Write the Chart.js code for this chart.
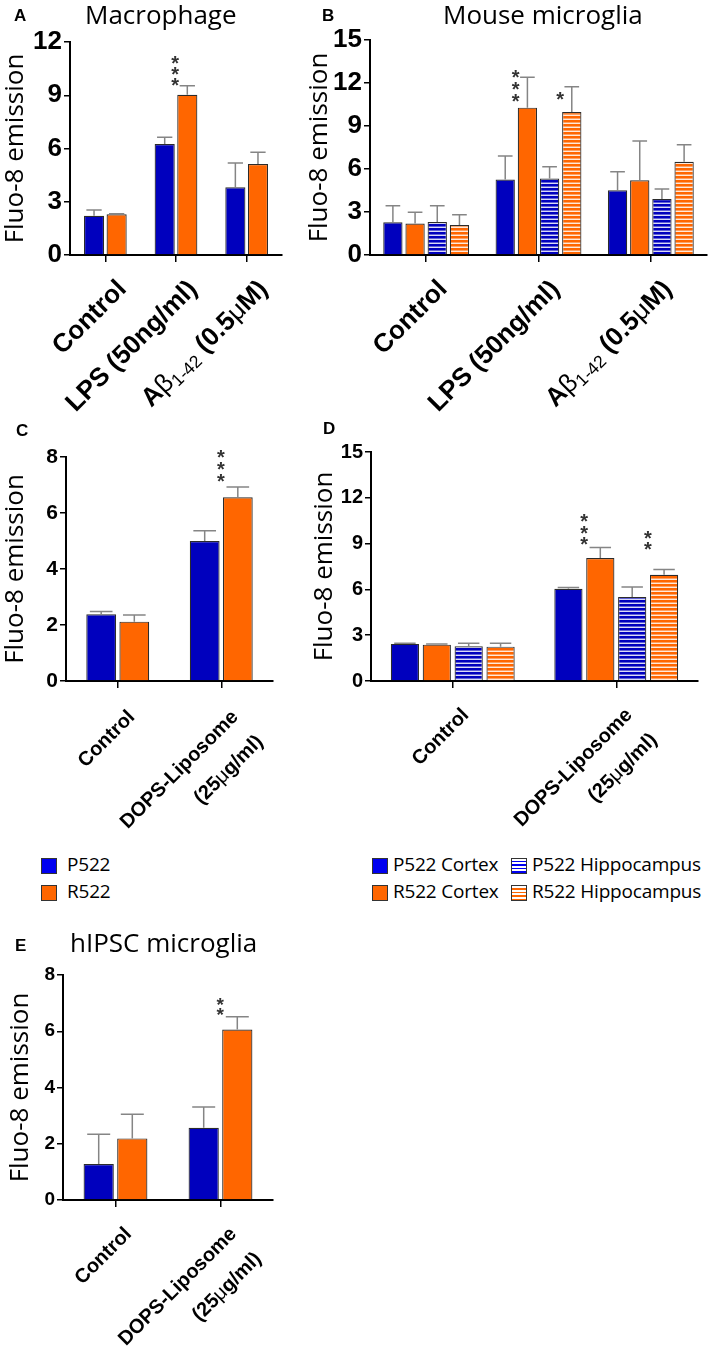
<!DOCTYPE html>
<html>
<head>
<meta charset="utf-8">
<script src="https://cdn.jsdelivr.net/npm/chart.js@4.4.0/dist/chart.umd.min.js"></script>
<style>
  body { margin: 0; background: #fff; }
  #fig { position: relative; width: 709px; height: 1361px; background: #fff; font-family: "Open Sans", sans-serif; color: #000; overflow: hidden; }
  #fig canvas { position: absolute; }
  .letter { position: absolute; font: bold 17px "Liberation Sans", Arial, sans-serif; line-height: 17px; }
  .title { position: absolute; font-size: 26px; line-height: 26px; white-space: nowrap; }
  .leg { position: absolute; font-size: 19px; line-height: 19px; white-space: nowrap; letter-spacing: -0.2px; }
  .sw { position: absolute; width: 16px; height: 16px; border: 1px solid #333; box-sizing: border-box; }
</style>
</head>
<body>
<div id="fig">
  <canvas id="chartA" width="290" height="420" style="left:0;top:0"></canvas>
  <canvas id="chartB" width="419" height="420" style="left:290px;top:0"></canvas>
  <canvas id="chartC" width="290" height="420" style="left:0;top:420px"></canvas>
  <canvas id="chartD" width="419" height="420" style="left:290px;top:420px"></canvas>
  <canvas id="chartE" width="290" height="411" style="left:0;top:950px"></canvas>

  <div class="letter" style="left:14px;top:7px">A</div>
  <div class="letter" style="left:322px;top:7px">B</div>
  <div class="letter" style="left:16px;top:422px">C</div>
  <div class="letter" style="left:323px;top:420px">D</div>
  <div class="letter" style="left:15px;top:937px">E</div>

  <div class="title" style="left:85px;top:1px">Macrophage</div>
  <div class="title" style="left:443px;top:1px">Mouse microglia</div>
  <div class="title" style="left:70px;top:929px">hIPSC microglia</div>

  <div class="sw" style="left:41px;top:858px;background:#0000f0"></div>
  <div class="leg" style="left:67px;top:855px">P522</div>
  <div class="sw" style="left:41px;top:885px;background:#ff6600"></div>
  <div class="leg" style="left:67px;top:882px">R522</div>

  <div class="sw" style="left:372px;top:858px;background:#0000f0"></div>
  <div class="leg" style="left:393px;top:855px">P522 Cortex</div>
  <div class="sw" style="left:511px;top:858px;background:repeating-linear-gradient(to bottom,#fff 0 2px,#0000f0 2px 3.5px)"></div>
  <div class="leg" style="left:532px;top:855px">P522 Hippocampus</div>
  <div class="sw" style="left:372px;top:885px;background:#ff6600"></div>
  <div class="leg" style="left:393px;top:882px">R522 Cortex</div>
  <div class="sw" style="left:511px;top:885px;background:repeating-linear-gradient(to bottom,#fff 0 2px,#ff6600 2px 3.5px)"></div>
  <div class="leg" style="left:532px;top:882px">R522 Hippocampus</div>
</div>

<script>
// ---- data ----
const catsTreat = ["Control", "LPS (50ng/ml)", "Aβ_{1-42} (0.5μM)"];
const catsDops = ["Control", ["DOPS-Liposome", "(25μg/ml)"]];

// A: macrophage
const macP522 = [2.21, 6.25, 3.81];
const macP522Err = [0.32, 0.38, 1.37];
const macR522 = [2.29, 9.03, 5.13];
const macR522Err = [0.03, 0.51, 0.66];
const macR522Stars = ["", "***", ""];
const macR522StarAt = [0, 9.8, 0];

// B: mouse microglia
const mmP522Ctx = [2.28, 5.26, 4.51];
const mmP522CtxErr = [1.16, 1.65, 1.30];
const mmR522Ctx = [2.19, 10.28, 5.21];
const mmR522CtxErr = [0.79, 2.12, 2.74];
const mmP522Hip = [2.30, 5.33, 3.91];
const mmP522HipErr = [1.14, 0.83, 0.69];
const mmR522Hip = [2.09, 9.98, 6.51];
const mmR522HipErr = [0.72, 1.76, 1.19];
const mmR522CtxStars = ["", "***", ""];
const mmR522CtxStarAt = [0, 11.05, 0];
const mmR522HipStars = ["", "*", ""];
const mmR522HipStarAt = [0, 11.2, 0];

// C: DOPS, two genotypes
const cP522 = [2.38, 5.00];
const cP522Err = [0.10, 0.37];
const cR522 = [2.12, 6.56];
const cR522Err = [0.24, 0.37];
const cR522Stars = ["", "***"];
const cR522StarAt = [0, 7.29];

// D: DOPS, cortex / hippocampus
const dP522Ctx = [2.43, 6.04];
const dP522CtxErr = [0.04, 0.08];
const dR522Ctx = [2.38, 8.05];
const dR522CtxErr = [0.05, 0.70];
const dP522Hip = [2.28, 5.51];
const dP522HipErr = [0.19, 0.64];
const dR522Hip = [2.25, 6.96];
const dR522HipErr = [0.22, 0.34];
const dR522CtxStars = ["", "***"];
const dR522CtxStarAt = [0, 9.25];
const dR522HipStars = ["", "**"];
const dR522HipStarAt = [0, 8.92];

// E: hIPSC microglia
const eP522 = [1.28, 2.57];
const eP522Err = [1.06, 0.74];
const eR522 = [2.19, 6.06];
const eR522Err = [0.86, 0.46];
const eR522Stars = ["", "**"];
const eR522StarAt = [0, 6.76];

const BLUE = "#0000be";
const ORANGE = "#ff6600";

// horizontal white stripes for the hippocampus bars
function stripes(color) {
  const c = document.createElement("canvas");
  c.width = 8; c.height = 4;
  const g = c.getContext("2d");
  g.fillStyle = color;
  g.fillRect(0, 0, 8, 4);
  g.fillStyle = "rgba(255,255,255,0.95)";
  g.fillRect(0, 2.6, 8, 1.3);
  return g.createPattern(c, "repeat");
}

// error bars (upper only) and significance stars
const errorBars = {
  id: "errorBars",
  afterDatasetsDraw(chart, args, opts) {
    const ctx = chart.ctx, y = chart.scales.y;
    chart.data.datasets.forEach((ds, i) => {
      chart.getDatasetMeta(i).data.forEach((bar, j) => {
        const top = y.getPixelForValue(ds.data[j] + ds.errors[j]);
        const cap = bar.width * 0.38;
        ctx.save();
        ctx.strokeStyle = "#858585";
        ctx.lineWidth = 1.5;
        ctx.beginPath();
        ctx.moveTo(bar.x, bar.y);
        ctx.lineTo(bar.x, top);
        ctx.moveTo(bar.x - cap, top);
        ctx.lineTo(bar.x + cap, top);
        ctx.stroke();
        if (ds.stars && ds.stars[j]) {
          ctx.fillStyle = "#333";
          ctx.font = "bold " + opts.starSize + 'px "Liberation Sans", Arial, sans-serif';
          ctx.textAlign = "center";
          ctx.textBaseline = "alphabetic";
          const sx = bar.x - bar.width / 2 - 2;
          const sy = y.getPixelForValue(ds.starAt[j]);
          for (let k = 0; k < ds.stars[j].length; k++) {
            ctx.fillText("*", sx, sy - k * opts.starGap + opts.starSize * 0.57);
          }
        }
        ctx.restore();
      });
    });
  }
};

// split a label into runs: bold text, plain greek letters, subscripts written as _{..}
function runsOf(text) {
  const runs = [];
  let i = 0;
  while (i < text.length) {
    if (text.startsWith("_{", i)) {
      const end = text.indexOf("}", i);
      runs.push({ t: text.slice(i + 2, end), sub: true });
      i = end + 1;
    } else {
      const ch = text[i];
      const greek = "βμ".includes(ch);
      const last = runs[runs.length - 1];
      if (last && !last.sub && last.greek === greek) last.t += ch;
      else runs.push({ t: ch, greek: greek });
      i++;
    }
  }
  return runs;
}

function runFont(r, size) {
  if (r.sub) return (size * 0.68) + 'px "Liberation Sans", Arial, sans-serif';
  if (r.greek) return size + 'px "Liberation Sans", Arial, sans-serif';
  return "bold " + size + 'px "Liberation Sans", Arial, sans-serif';
}

// 45 degree category labels, right end at the tick
const slantLabels = {
  id: "slantLabels",
  afterDraw(chart, args, opts) {
    const ctx = chart.ctx, x = chart.scales.x, base = chart.chartArea.bottom;
    chart.data.labels.forEach((lab, i) => {
      const lines = Array.isArray(lab) ? lab : [lab];
      ctx.save();
      ctx.translate(x.getPixelForTick(i) + opts.dx, base + opts.dy);
      ctx.rotate(-Math.PI / 4);
      ctx.fillStyle = "#000";
      ctx.textBaseline = "top";
      ctx.textAlign = "left";
      lines.forEach((line, k) => {
        const runs = runsOf(line);
        let w = 0;
        runs.forEach(r => { ctx.font = runFont(r, opts.size); w += ctx.measureText(r.t).width; });
        let cx = -w;
        runs.forEach(r => {
          ctx.font = runFont(r, opts.size);
          ctx.fillText(r.t, cx, k * opts.lineGap + (r.sub ? opts.size * 0.42 : 0));
          cx += ctx.measureText(r.t).width;
        });
      });
      ctx.restore();
    });
  }
};

function bars(label, data, errors, fill, stars, starAt) {
  return {
    label: label, data: data, errors: errors, stars: stars, starAt: starAt,
    backgroundColor: fill, borderColor: "#2b2b2b", borderWidth: 1.2,
    borderSkipped: "bottom"
  };
}

// box: canvas position on the page, area: plot area on the page
function panel(id, box, area, labels, datasets, p) {
  const ctx = document.getElementById(id);
  datasets.forEach(ds => { ds.barPercentage = p.barPct; ds.categoryPercentage = p.catPct; });
  return new Chart(ctx, {
    type: "bar",
    data: { labels: labels, datasets: datasets },
    plugins: [errorBars, slantLabels],
    options: {
      responsive: false,
      animation: false,
      devicePixelRatio: 1,
      layout: { padding: { left: 0, top: area.t - box.t, right: box.l + box.w - area.r, bottom: 0 } },
      plugins: {
        legend: { display: false },
        tooltip: { enabled: false },
        errorBars: { starSize: p.starSize, starGap: p.starGap },
        slantLabels: { size: p.labelSize, dx: p.labelDx, dy: p.labelDy, lineGap: p.lineGap || 0 }
      },
      scales: {
        x: {
          offset: true,
          ticks: { display: false },
          grid: { display: true, drawOnChartArea: false, drawTicks: true, tickLength: 7, color: "#000", lineWidth: 1.5, offset: false },
          border: { display: true, color: "#000", width: 2 },
          afterFit: s => { s.height = box.t + box.h - area.b; }
        },
        y: {
          min: 0, max: p.yMax,
          ticks: { stepSize: p.yStep, color: "#000", padding: 2, font: { family: '"Liberation Sans", Arial, sans-serif', weight: "bold", size: p.tickSize } },
          grid: { drawOnChartArea: false, drawTicks: true, tickLength: 6, color: "#000", lineWidth: 1.5 },
          border: { display: true, color: "#000", width: 2 },
          title: { display: true, text: "Fluo-8 emission", color: "#000", font: { family: '"Open Sans", sans-serif', size: 26 }, padding: { top: p.titlePad, bottom: 0 } },
          afterFit: s => { s.width = area.l - box.l; }
        }
      }
    }
  });
}

const blueStripes = stripes(BLUE);
const orangeStripes = stripes(ORANGE);

panel("chartA", { l: 0, t: 0, w: 290, h: 420 }, { l: 70, t: 42, r: 282, b: 255 }, catsTreat, [
  bars("P522", macP522, macP522Err, BLUE),
  bars("R522", macR522, macR522Err, ORANGE, macR522Stars, macR522StarAt)
], { yMax: 12, yStep: 3, tickSize: 26, labelSize: 26, labelDx: 8, labelDy: 21, barPct: 0.89, catPct: 0.64, starSize: 20, starGap: 11, titlePad: 0 });

panel("chartB", { l: 290, t: 0, w: 419, h: 420 }, { l: 370, t: 40, r: 707, b: 255 }, catsTreat, [
  bars("P522 Cortex", mmP522Ctx, mmP522CtxErr, BLUE),
  bars("R522 Cortex", mmR522Ctx, mmR522CtxErr, ORANGE, mmR522CtxStars, mmR522CtxStarAt),
  bars("P522 Hippocampus", mmP522Hip, mmP522HipErr, blueStripes),
  bars("R522 Hippocampus", mmR522Hip, mmR522HipErr, orangeStripes, mmR522HipStars, mmR522HipStarAt)
], { yMax: 15, yStep: 3, tickSize: 26, labelSize: 26, labelDx: 8, labelDy: 21, barPct: 0.87, catPct: 0.79, starSize: 20, starGap: 12, titlePad: 14 });

panel("chartC", { l: 0, t: 420, w: 290, h: 420 }, { l: 66, t: 457, r: 273, b: 681 }, catsDops, [
  bars("P522", cP522, cP522Err, BLUE),
  bars("R522", cR522, cR522Err, ORANGE, cR522Stars, cR522StarAt)
], { yMax: 8, yStep: 2, tickSize: 21, labelSize: 20, labelDx: 7, labelDy: 26, lineGap: 35, barPct: 0.9, catPct: 0.64, starSize: 20, starGap: 12, titlePad: 0 });

panel("chartD", { l: 290, t: 420, w: 419, h: 420 }, { l: 371, t: 452, r: 698, b: 681 }, catsDops, [
  bars("P522 Cortex", dP522Ctx, dP522CtxErr, BLUE),
  bars("R522 Cortex", dR522Ctx, dR522CtxErr, ORANGE, dR522CtxStars, dR522CtxStarAt),
  bars("P522 Hippocampus", dP522Hip, dP522HipErr, blueStripes),
  bars("R522 Hippocampus", dR522Hip, dR522HipErr, orangeStripes, dR522HipStars, dR522HipStarAt)
], { yMax: 15, yStep: 3, tickSize: 20, labelSize: 20, labelDx: 6, labelDy: 24, lineGap: 35, barPct: 0.885, catPct: 0.78, starSize: 20, starGap: 11.5, titlePad: 19 });

panel("chartE", { l: 0, t: 950, w: 290, h: 411 }, { l: 63, t: 975, r: 273, b: 1200 }, catsDops, [
  bars("P522", eP522, eP522Err, BLUE),
  bars("R522", eR522, eR522Err, ORANGE, eR522Stars, eR522StarAt)
], { yMax: 8, yStep: 2, tickSize: 19, labelSize: 20, labelDx: 6, labelDy: 24, lineGap: 35, barPct: 0.9, catPct: 0.64, starSize: 19, starGap: 10, titlePad: 5 });
</script>
</body>
</html>
